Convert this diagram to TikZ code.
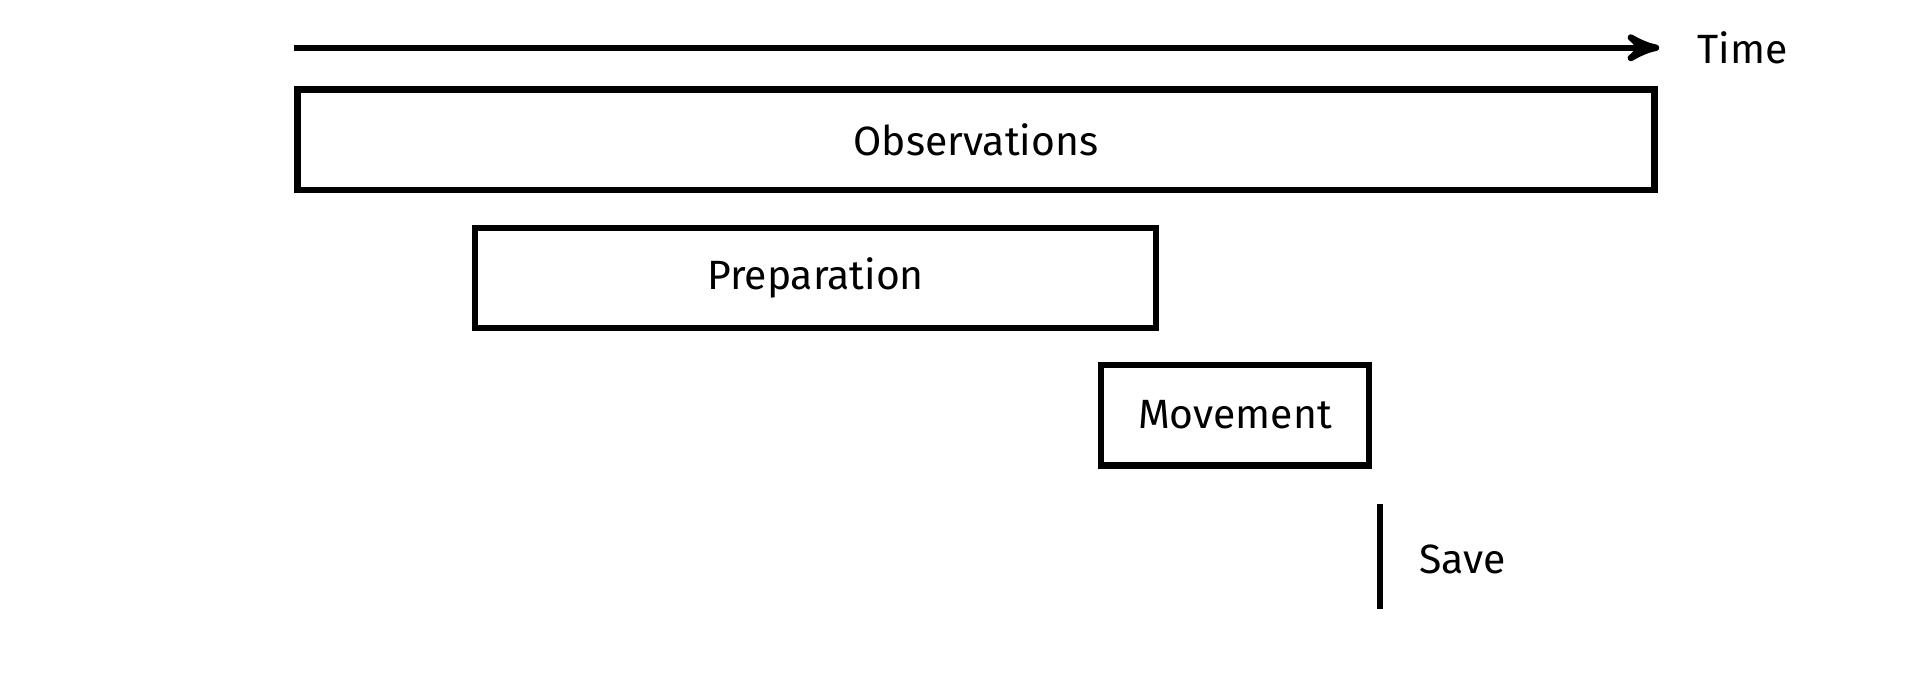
\documentclass[tikz,border=0pt]{standalone}
\usepackage{fontspec}
\setmainfont{Fira Sans}
\usetikzlibrary{arrows}
\tikzset{%
 >=stealth',
 phase/.style={draw, line width=1.5pt, inner sep=0pt, font=\fontsize{9.5}{11}\selectfont},
 lbl/.style={anchor=west, font=\fontsize{9.5}{11}\selectfont}
}
\usetikzlibrary{positioning}

\begin{document}
\begin{tikzpicture}[y=-1cm, line width=1.5pt]
 \useasboundingbox (0,0) rectangle (15.68,5.6);
 \coordinate (start) at (2.40,.39);
 \coordinate (stop) at (13.55,.39);
 \draw [-{>[scale=.8]}, line cap=butt] (start) -- (stop);
 \node [lbl] (time) at (13.72,.39) {Time};
 \node [phase, minimum width=11.08cm, minimum height=.82cm] (obs) at (7.97,1.14) {Observations};
 \node [phase, minimum width=5.56cm, minimum height=.82cm] (prep) at (6.66,2.27) {Preparation};
 \node [phase, minimum width=2.19cm, minimum height=.82cm] (move) at (10.085,3.39) {Movement};
 \coordinate (savetop) at (11.27,4.12);
 \coordinate (savebot) at (11.27,4.97);
 \draw (savetop) -- (savebot);
 \node [lbl] (save) at (11.45,4.57) {Save};
\end{tikzpicture}
\end{document}
